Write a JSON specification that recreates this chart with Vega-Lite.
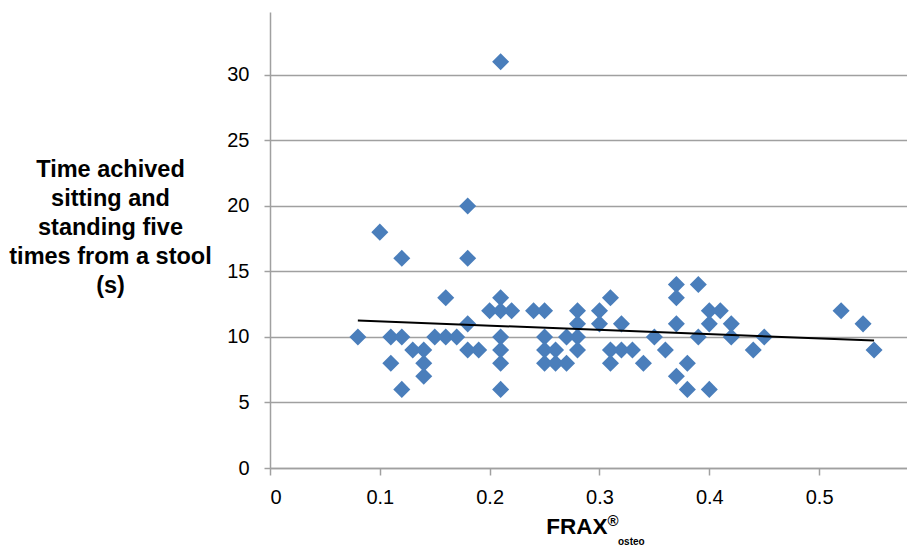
{
  "$schema": "https://vega.github.io/schema/vega-lite/v6.json",
  "width": 637,
  "height": 456,
  "autosize": {"type": "none"},
  "padding": {"left": 270, "top": 12, "right": 0, "bottom": 78},
  "background": "white",
  "config": {"view": {"stroke": null}, "font": "Liberation Sans"},
  "title": {
    "text": "osteo", "orient": "bottom", "anchor": "start", "frame": "group",
    "fontSize": 10, "fontWeight": "bold", "color": "black",
    "baseline": "alphabetic", "offset": 0, "dx": 348, "dy": 7
  },
  "data": {
    "values": [
      {"frax": 0.08, "time": 10}, {"frax": 0.10, "time": 18}, {"frax": 0.11, "time": 10},
      {"frax": 0.11, "time": 8}, {"frax": 0.12, "time": 16}, {"frax": 0.12, "time": 10},
      {"frax": 0.12, "time": 6}, {"frax": 0.13, "time": 9}, {"frax": 0.14, "time": 9},
      {"frax": 0.14, "time": 8}, {"frax": 0.14, "time": 7}, {"frax": 0.15, "time": 10},
      {"frax": 0.16, "time": 13}, {"frax": 0.16, "time": 10}, {"frax": 0.17, "time": 10},
      {"frax": 0.18, "time": 20}, {"frax": 0.18, "time": 16}, {"frax": 0.18, "time": 11},
      {"frax": 0.18, "time": 9}, {"frax": 0.19, "time": 9}, {"frax": 0.20, "time": 12},
      {"frax": 0.21, "time": 31}, {"frax": 0.21, "time": 13}, {"frax": 0.21, "time": 12},
      {"frax": 0.21, "time": 10}, {"frax": 0.21, "time": 9}, {"frax": 0.21, "time": 8},
      {"frax": 0.21, "time": 6}, {"frax": 0.22, "time": 12}, {"frax": 0.24, "time": 12},
      {"frax": 0.25, "time": 12}, {"frax": 0.25, "time": 10}, {"frax": 0.25, "time": 9},
      {"frax": 0.25, "time": 8}, {"frax": 0.26, "time": 9}, {"frax": 0.26, "time": 8},
      {"frax": 0.27, "time": 10}, {"frax": 0.27, "time": 8}, {"frax": 0.28, "time": 12},
      {"frax": 0.28, "time": 11}, {"frax": 0.28, "time": 10}, {"frax": 0.28, "time": 9},
      {"frax": 0.30, "time": 12}, {"frax": 0.30, "time": 11}, {"frax": 0.31, "time": 13},
      {"frax": 0.31, "time": 9}, {"frax": 0.31, "time": 8}, {"frax": 0.32, "time": 11},
      {"frax": 0.32, "time": 9}, {"frax": 0.33, "time": 9}, {"frax": 0.34, "time": 8},
      {"frax": 0.35, "time": 10}, {"frax": 0.36, "time": 9}, {"frax": 0.37, "time": 14},
      {"frax": 0.37, "time": 13}, {"frax": 0.37, "time": 11}, {"frax": 0.37, "time": 7},
      {"frax": 0.38, "time": 8}, {"frax": 0.38, "time": 6}, {"frax": 0.39, "time": 14},
      {"frax": 0.39, "time": 10}, {"frax": 0.40, "time": 12}, {"frax": 0.40, "time": 11},
      {"frax": 0.40, "time": 6}, {"frax": 0.41, "time": 12}, {"frax": 0.42, "time": 11},
      {"frax": 0.42, "time": 10}, {"frax": 0.44, "time": 9}, {"frax": 0.45, "time": 10},
      {"frax": 0.52, "time": 12}, {"frax": 0.54, "time": 11}, {"frax": 0.55, "time": 9}
    ]
  },
  "layer": [
    {
      "mark": {"type": "point", "shape": "diamond", "filled": true, "size": 290, "color": "#4A7EBB", "opacity": 1},
      "encoding": {
        "x": {
          "field": "frax", "type": "quantitative",
          "scale": {"domain": [0, 0.58], "nice": false, "zero": false},
          "axis": {
            "values": [0, 0.1, 0.2, 0.3, 0.4, 0.5], "format": "~g",
            "grid": false, "domainColor": "#a0a0a0", "domainWidth": 1.5,
            "tickColor": "#a0a0a0", "tickWidth": 1.5, "tickSize": 7,
            "labelFontSize": 20, "labelColor": "black", "labelPadding": 12,
            "title": "FRAX", "titleFontSize": 22.5, "titleFontWeight": "bold", "titleColor": "black",
            "titleAlign": "right", "titleX": 337, "titleY": 65, "titleBaseline": "alphabetic"
          }
        },
        "y": {
          "field": "time", "type": "quantitative",
          "scale": {"domain": [0, 34.8], "nice": false},
          "axis": {
            "values": [0, 5, 10, 15, 20, 25, 30],
            "grid": true, "gridColor": "#a0a0a0", "gridWidth": 1.5,
            "domainColor": "#a0a0a0", "domainWidth": 1.5,
            "tickColor": "#a0a0a0", "tickWidth": 1.5, "tickSize": 6,
            "labelFontSize": 20, "labelColor": "black", "labelPadding": 15,
            "title": ["Time achived", "sitting and", "standing five", "times from a stool", "(s)"],
            "titleFontSize": 23.5, "titleFontWeight": "bold", "titleColor": "black",
            "titleAngle": 0, "titleAlign": "center", "titleBaseline": "top",
            "titleX": -160, "titleY": 145, "titleLineHeight": 29
          }
        }
      }
    },
    {
      "transform": [{"regression": "time", "on": "frax", "extent": [0.08, 0.55]}],
      "mark": {"type": "line", "color": "black", "strokeWidth": 2},
      "encoding": {
        "x": {
          "field": "frax", "type": "quantitative",
          "axis": {
            "orient": "top", "labels": false, "ticks": false, "domain": false, "grid": false,
            "title": "®", "titleFontSize": 15, "titleFontWeight": "bold", "titleColor": "black",
            "titleAlign": "left", "titleX": 337, "titleY": 513, "titleBaseline": "alphabetic"
          }
        },
        "y": {"field": "time", "type": "quantitative"}
      }
    }
  ],
  "resolve": {"axis": {"x": "independent"}}
}
